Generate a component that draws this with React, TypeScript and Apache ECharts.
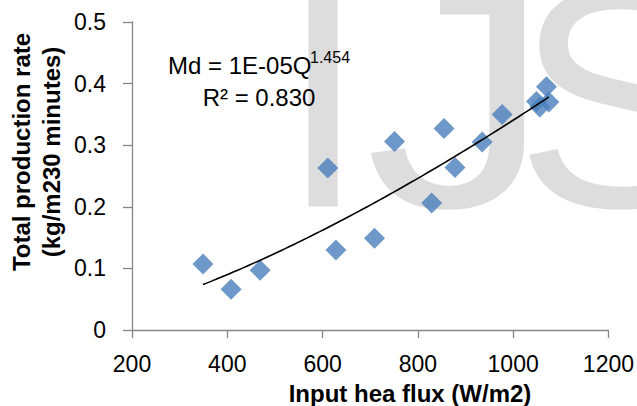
import { useEffect, useRef } from "react";
import * as echarts from "echarts";

// Input heat flux (W/m2) and total production rate (kg/m2 per 230 minutes)
const heatFlux = [349, 408, 469, 611, 628, 709, 751, 829, 855, 878, 935, 977, 1049, 1056, 1070, 1075];
const productionRate = [0.107, 0.066, 0.097, 0.263, 0.13, 0.149, 0.306, 0.206, 0.327, 0.264, 0.305, 0.35, 0.371, 0.362, 0.395, 0.37];

// Axis ranges and ticks
const xTicks = [200, 400, 600, 800, 1000, 1200];
const yTicks = [0, 0.1, 0.2, 0.3, 0.4, 0.5];

// Trendline label
const fitExponent = 1.454;
const equationMain = "Md = 1E-05Q";
const equationExponent = "1.454";
const rSquaredLabel = "R\u00B2 = 0.830";

const FONT = "'Liberation Sans', Arial, sans-serif";

// Power trendline y = a * x^b, coefficient fitted in log space for the stated exponent
function powerTrend(xs: number[], ys: number[], b: number): [number, number][] {
  let s = 0;
  for (let i = 0; i < xs.length; i++) s += Math.log(ys[i]) - b * Math.log(xs[i]);
  const a = Math.exp(s / xs.length);
  const lo = Math.min(...xs);
  const hi = Math.max(...xs);
  const n = 80;
  const out: [number, number][] = [];
  for (let i = 0; i <= n; i++) {
    const x = lo + ((hi - lo) * i) / n;
    out.push([x, a * Math.pow(x, b)]);
  }
  return out;
}

export default function App() {
  const ref = useRef<HTMLDivElement>(null);

  useEffect(() => {
    if (!ref.current) return;
    const chart = echarts.init(ref.current, null, { renderer: "svg" });
    const points = heatFlux.map((x, i) => [x, productionRate[i]]);
    const trend = powerTrend(heatFlux, productionRate, fitExponent);
    const mark = "rgba(0,0,0,0.135)";
    const markText = (ch: string, x: number, sx = 1) => ({
      type: "text",
      x,
      y: 98,
      scaleX: sx,
      style: { text: ch, fontFamily: FONT, fontSize: 314, align: "left", verticalAlign: "middle", fill: mark },
    });

    chart.setOption({
      animation: false,
      backgroundColor: "#ffffff",
      grid: { left: 132, right: 28, top: 22, bottom: 76 },
      xAxis: {
        type: "value",
        min: xTicks[0],
        max: xTicks[xTicks.length - 1],
        interval: xTicks[1] - xTicks[0],
        splitLine: { show: false },
        axisLine: { lineStyle: { color: "#868686", width: 1.3 } },
        axisTick: { show: true, length: 8, lineStyle: { color: "#868686", width: 1.3 } },
        axisLabel: {
          color: "#000",
          fontFamily: FONT,
          fontSize: 23,
          margin: 22,
          formatter: (v: number) => String(v),
        },
      },
      yAxis: {
        type: "value",
        min: yTicks[0],
        max: yTicks[yTicks.length - 1],
        interval: yTicks[1] - yTicks[0],
        splitLine: { show: false },
        axisLine: { show: true, lineStyle: { color: "#868686", width: 1.3 } },
        axisTick: { show: true, length: 9, lineStyle: { color: "#868686", width: 1.3 } },
        axisLabel: { color: "#000", fontFamily: FONT, fontSize: 23, margin: 26 },
      },
      series: [
        {
          type: "scatter",
          data: points,
          symbol: "diamond",
          symbolSize: 21,
          itemStyle: { color: "#4A7EBB" },
          z: 2,
        },
        {
          type: "line",
          data: trend,
          showSymbol: false,
          smooth: false,
          lineStyle: { color: "#000", width: 1.6 },
          z: 3,
        },
      ],
      graphic: [
        {
          type: "text",
          x: 36,
          y: 152,
          rotation: Math.PI / 2,
          style: {
            text: "Total production rate\n(kg/m230 minutes)",
            fontFamily: FONT,
            fontWeight: "bold",
            fontSize: 24,
            lineHeight: 30,
            align: "center",
            verticalAlign: "middle",
            fill: "#000",
          },
        },
        {
          type: "text",
          x: 410,
          y: 393,
          style: {
            text: "Input hea flux (W/m2)",
            fontFamily: FONT,
            fontWeight: "bold",
            fontSize: 24,
            align: "center",
            verticalAlign: "middle",
            fill: "#000",
          },
        },
        {
          type: "text",
          x: 168,
          y: 65,
          style: { text: equationMain, fontFamily: FONT, fontSize: 24, align: "left", verticalAlign: "middle", fill: "#000" },
          z: 50,
        },
        {
          type: "text",
          x: 310,
          y: 57,
          style: { text: equationExponent, fontFamily: FONT, fontSize: 16, align: "left", verticalAlign: "middle", fill: "#000" },
          z: 50,
        },
        {
          type: "text",
          x: 259,
          y: 97,
          style: { text: rSquaredLabel, fontFamily: FONT, fontSize: 24, align: "center", verticalAlign: "middle", fill: "#000" },
          z: 50,
        },
        // translucent "IJS" mark laid over the plot
        {
          type: "group",
          z: 100,
          silent: true,
          children: [markText("I", 279.5), markText("J", 365, 1.19), markText("S", 515)],
        },
      ],
    });

    return () => chart.dispose();
  }, []);

  return (
    <div
      ref={ref}
      style={{ position: "fixed", left: 0, top: 0, width: 637, height: 406, background: "#fff" }}
    />
  );
}
